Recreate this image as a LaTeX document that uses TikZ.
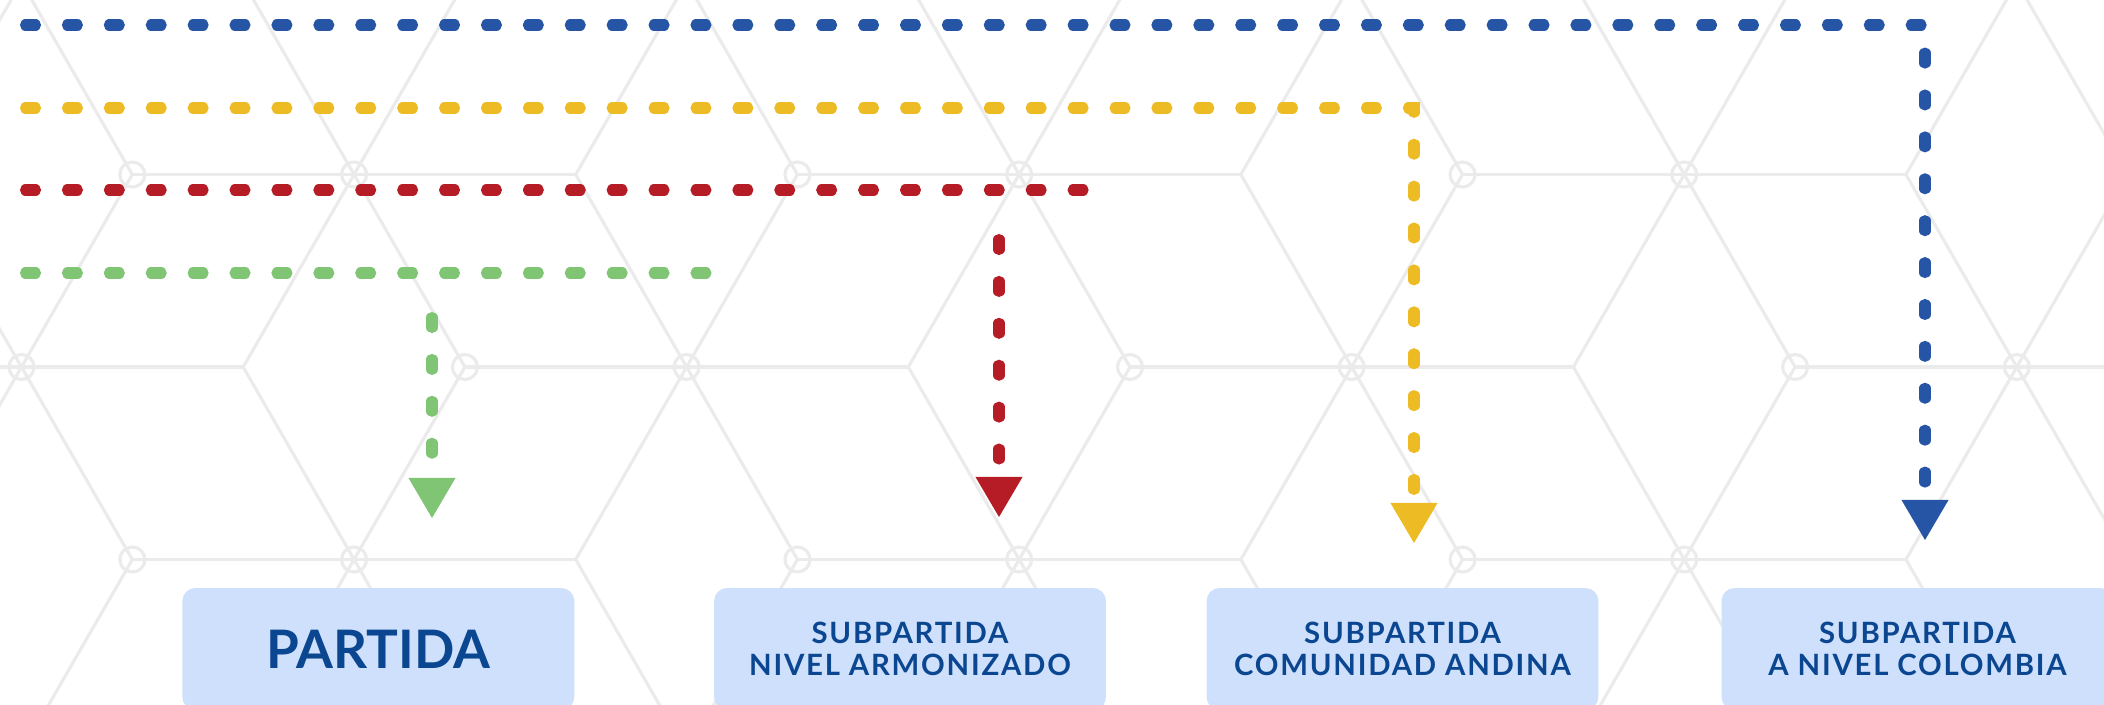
\documentclass[tikz,border=0pt]{standalone}
\usepackage{fontspec}
\setsansfont{Lato}
\newfontfamily\levelfont{Lato}[LetterSpace=6]
\usetikzlibrary{arrows.meta}

\definecolor{gridgray}{HTML}{EBEBEB}
\definecolor{lineblue}{HTML}{2655A5}
\definecolor{lineyellow}{HTML}{EDBB24}
\definecolor{linered}{HTML}{B61C26}
\definecolor{linegreen}{HTML}{80C574}
\definecolor{boxfill}{HTML}{CFE0FC}
\definecolor{boxtext}{HTML}{0B4690}

\tikzset{
  gridline/.style={draw=gridgray, line width=1.8pt},
  route/.style={line width=6.3pt, line cap=round, dash pattern=on 5.7pt off 18.15pt},
  routearrow/.style={route, -{Triangle[width=26.8pt, length=22.8pt, line width=0pt]}},
  level/.style={fill=boxfill, rounded corners=7.4pt, minimum width=7.84cm, minimum height=2.44cm,
    text=boxtext, align=center, font=\levelfont\bfseries\fontsize{16.7}{17.8}\selectfont},
}

\begin{document}
\begin{tikzpicture}[x=0.02cm, y=-0.02cm]
  \useasboundingbox (0,0) rectangle (2104,704);
  \clip (0,0) rectangle (2104,704);

  % background lattice
  \foreach \r in {-2,...,3}{
    \foreach \i in {-3,...,12}{
      \pgfmathtruncatemacro\kind{mod(\i-\r+30,3)}
      \pgfmathsetmacro\px{21.5+221.7*(\i+\r/2)}
      \pgfmathsetmacro\py{367+192.5*\r}
      \ifnum\kind=0
        \draw[gridline] (\px-221.7,\py) -- (\px+221.7,\py);
        \draw[gridline] (\px-110.85,\py-192.5) -- (\px+110.85,\py+192.5);
        \draw[gridline] (\px+110.85,\py-192.5) -- (\px-110.85,\py+192.5);
      \fi
      \ifnum\kind=1 \else
        \draw[gridline] (\px,\py) circle[radius=12.5];
      \fi
    }
  }

  % line ends
  \coordinate (bluestart) at (25.5,25);
  \coordinate (blueturn) at (1925,25);
  \coordinate (bluetip) at (1925,540);
  \coordinate (yellowstart) at (25.5,108);
  \coordinate (yellowturn) at (1414,108);
  \coordinate (yellowtip) at (1414,543);
  \coordinate (redstart) at (25.5,190);
  \coordinate (redend) at (1084,190);
  \coordinate (redbranch) at (999,239.5);
  \coordinate (redtip) at (999,517);
  \coordinate (greenstart) at (25.5,273);
  \coordinate (greenend) at (706,273);
  \coordinate (greenbranch) at (432,317.5);
  \coordinate (greentip) at (432,518);

  % boxes
  \node[level, font=\sffamily\bfseries\fontsize{30.2}{32}\selectfont] (partida) at (378.3,649) {PARTIDA};
  \node[level] (armonizado) at (910,649) {SUBPARTIDA\\NIVEL ARMONIZADO};
  \node[level] (andina) at (1402.5,649) {SUBPARTIDA\\COMUNIDAD ANDINA};
  \node[level] (colombia) at (1917.5,649) {SUBPARTIDA\\A NIVEL COLOMBIA};

  % links
  \draw[routearrow, lineblue] (bluestart) -- (blueturn) -- (bluetip);
  \draw[routearrow, lineyellow] (yellowstart) -- (yellowturn) -- (yellowtip);
  \draw[route, linered] (redstart) -- (redend);
  \draw[routearrow, linered] (redbranch) -- (redtip);
  \draw[route, linegreen] (greenstart) -- (greenend);
  \draw[routearrow, linegreen] (greenbranch) -- (greentip);
\end{tikzpicture}
\end{document}
